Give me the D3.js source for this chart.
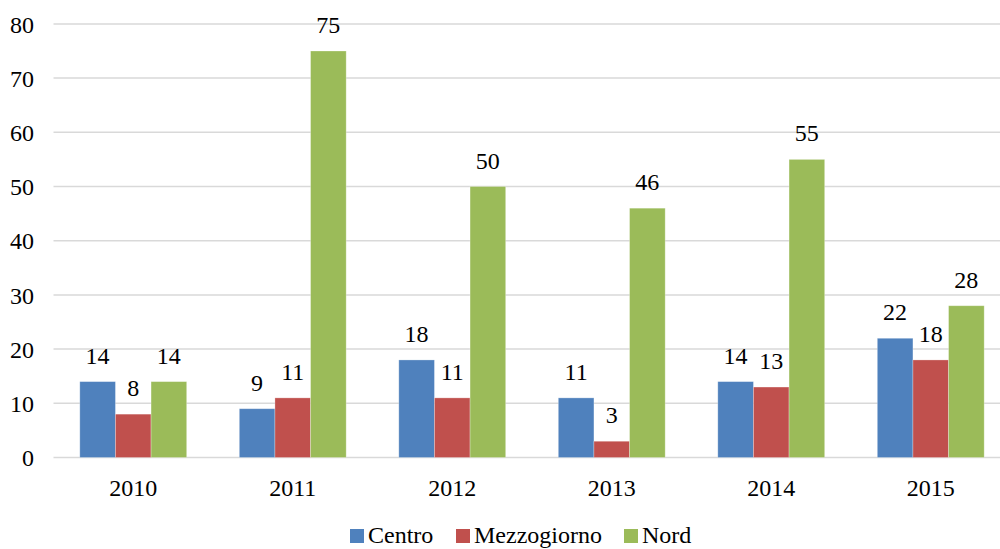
<!DOCTYPE html>
<html><head><meta charset="utf-8">
<script src="https://cdn.jsdelivr.net/npm/d3@7"></script>
<style>body{margin:0;background:#fff;overflow:hidden}svg{display:block}svg text{font-family:"Liberation Serif","Times New Roman",serif;font-size:24px;fill:#000}</style>
</head><body>
<svg id="c" width="1000" height="549"></svg>
<script>
const categories = ["2010","2011","2012","2013","2014","2015"];
const seriesNames = ["Centro","Mezzogiorno","Nord"];
const centro = [14,9,18,11,14,22];
const mezzogiorno = [8,11,11,3,13,18];
const nord = [14,75,50,46,55,28];
const yTicks = [0,10,20,30,40,50,60,70,80];
const colors = ["#4F81BD","#C0504D","#9BBB59"];

const values = [centro, mezzogiorno, nord];
const svg = d3.select("#c");
const x0 = 53.5, x1 = 1010.5, yTop = 23.9, yBot = 457.5;

const x = d3.scaleBand().domain(categories).range([x0,x1]).paddingInner(0).paddingOuter(0);
const inner = 0.67;
const xs = d3.scaleBand().domain(seriesNames).range([0, x.bandwidth()*inner]);
const y = d3.scaleLinear().domain([0,80]).range([yBot,yTop]);

// gridlines
svg.append("g").selectAll("line").data(yTicks).join("line")
  .attr("x1",x0).attr("x2",x1).attr("y1",d=>y(d)).attr("y2",d=>y(d))
  .attr("stroke","#d9d9d9").attr("stroke-width",1.5);

// y axis labels
const yAxis = d3.axisLeft(y).tickValues(yTicks).tickSize(0).tickPadding(0);
const gy = svg.append("g").attr("transform","translate(34,0)").call(yAxis);
gy.attr("font-family",null).attr("font-size",null);
gy.select(".domain").remove();
gy.selectAll("text").attr("dy","0.34em");

// x axis labels
const xAxis = d3.axisBottom(x).tickSize(0).tickPadding(0);
const gx = svg.append("g").attr("transform","translate(0,"+yBot+")").call(xAxis);
gx.attr("font-family",null).attr("font-size",null);
gx.select(".domain").remove();
gx.selectAll("text").attr("dy",null).attr("y",38);

const off = x.bandwidth()*(1-inner)/2;
const groups = svg.append("g").selectAll("g").data(categories).join("g")
  .attr("transform",d=>"translate("+(x(d)+off)+",0)");
seriesNames.forEach((s,si)=>{
  groups.append("rect")
    .attr("x",xs(s)).attr("width",xs.bandwidth())
    .attr("y",(d,i)=>y(values[si][i])).attr("height",(d,i)=>yBot-y(values[si][i]))
    .attr("fill",colors[si]).attr("stroke","rgba(255,255,255,0.35)").attr("stroke-width",0.8);
  groups.append("text")
    .attr("x",xs(s)+xs.bandwidth()/2).attr("y",(d,i)=>y(values[si][i])-18)
    .attr("text-anchor","middle")
    .text((d,i)=>values[si][i]);
});

// legend
const legendX = [350,456,624];
const lg = svg.append("g");
seriesNames.forEach((s,i)=>{
  lg.append("rect").attr("x",legendX[i]).attr("y",529).attr("width",14).attr("height",14).attr("fill",colors[i]);
  lg.append("text").attr("x",legendX[i]+18).attr("y",543).text(s);
});
</script>
</body></html>
